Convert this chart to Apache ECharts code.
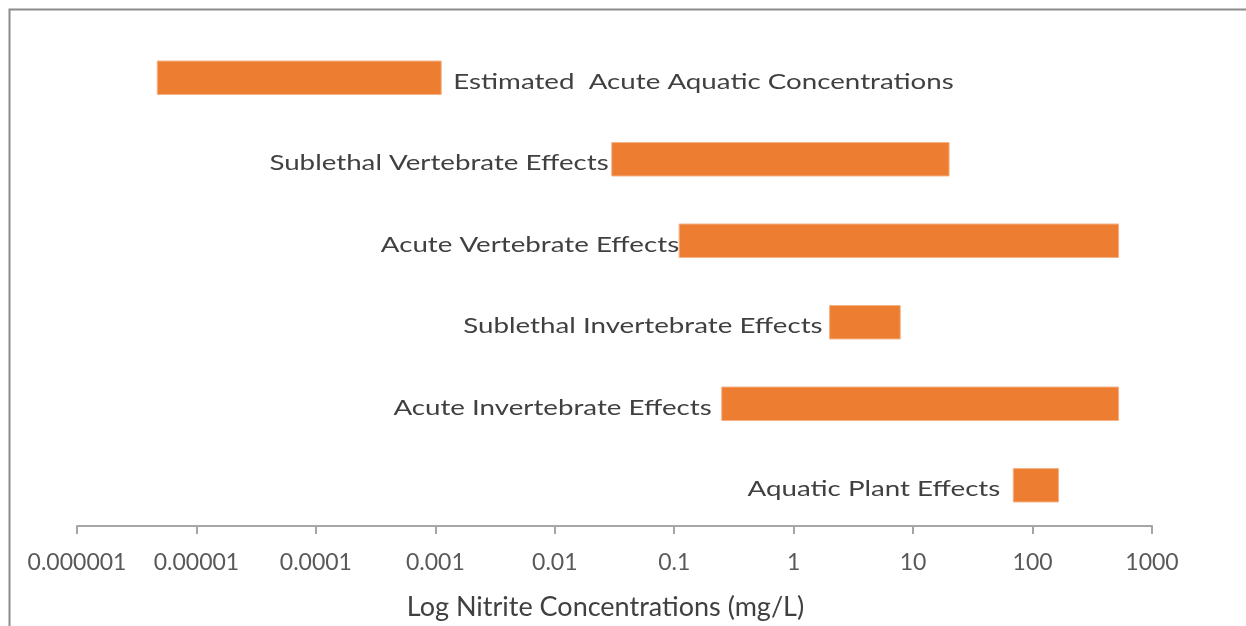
<!DOCTYPE html>
<html>
<head>
<meta charset="utf-8">
<script src="https://cdn.jsdelivr.net/npm/echarts@6/dist/echarts.min.js"></script>
<style>
html,body{margin:0;padding:0;background:#fff;}
#chart{width:1246px;height:626px;}
</style>
</head>
<body>
<div id="chart"></div>
<script>
// Data
const categories = [
  'Estimated  Acute Aquatic Concentrations',
  'Sublethal Vertebrate Effects',
  'Acute Vertebrate Effects',
  'Sublethal Invertebrate Effects',
  'Acute Invertebrate Effects',
  'Aquatic Plant Effects'
];
const rangeLow  = [0.0000047, 0.030, 0.11, 2.0, 0.25, 69];
const rangeHigh = [0.00112, 20, 525, 7.8, 525, 165];
const tickLabels = ['0.000001','0.00001','0.0001','0.001','0.01','0.1','1','10','100','1000'];

// Label styling (not data)
const labelSide = ['right', 'left', 'left', 'left', 'left', 'left'];
const labelGap = [12, 3, 0, 7, 10, 13];

const FONT = 'Lato';
const chart = echarts.init(document.getElementById('chart'), null, {renderer: 'canvas'});

const seriesData = categories.map((c, i) => [i, rangeLow[i], rangeHigh[i]]);

chart.setOption({
  backgroundColor: '#ffffff',
  animation: false,
  graphic: [{
    type: 'rect',
    shape: {x: 9.5, y: 9.5, width: 1300, height: 700},
    style: {fill: 'none', stroke: '#8c8c8c', lineWidth: 2},
    silent: true
  }],
  grid: {left: 77, right: 94, top: 37, bottom: 99},
  xAxis: {
    type: 'log',
    logBase: 10,
    min: 0.000001,
    max: 1000,
    name: 'Log Nitrite Concentrations (mg/L)',
    nameLocation: 'middle',
    nameGap: 68,
    nameTextStyle: {fontFamily: FONT, fontSize: 27, color: '#404040', padding: [0, 18, 0, 0]},
    axisLine: {show: true, lineStyle: {color: '#a6a6a6', width: 2}},
    axisTick: {show: true, length: 8, lineStyle: {color: '#a6a6a6', width: 2}},
    minorTick: {show: false},
    splitLine: {show: false},
    axisLabel: {
      margin: 25,
      fontFamily: FONT, fontSize: 23, color: '#595959',
      formatter: function (v) { return tickLabels[Math.round(Math.log10(v)) + 6]; }
    }
  },
  yAxis: {
    type: 'category',
    data: categories,
    inverse: true,
    show: false
  },
  series: [{
    type: 'custom',
    data: seriesData,
    encode: {x: [1, 2], y: 0},
    renderItem: function (params, api) {
      const ci = api.value(0);
      const p0 = api.coord([api.value(1), ci]);
      const p1 = api.coord([api.value(2), ci]);
      const bandH = api.size([0, 1])[1];
      const h = bandH * 0.41;
      const side = labelSide[ci];
      return {
        type: 'group',
        children: [{
          type: 'rect',
          shape: {x: p0[0], y: p0[1] - h / 2, width: p1[0] - p0[0], height: h},
          style: {fill: '#ED7D31', stroke: '#F4B183', lineWidth: 1}
        }, {
          type: 'text',
          x: side === 'right' ? p1[0] + labelGap[ci] : p0[0] - labelGap[ci],
          y: p0[1] + 4,
          scaleX: 1.26,
          style: {
            text: categories[ci],
            fontFamily: FONT,
            fontSize: 22,
            fill: '#404040',
            align: side === 'right' ? 'left' : 'right',
            verticalAlign: 'middle'
          }
        }]
      };
    }
  }]
});
</script>
</body>
</html>
